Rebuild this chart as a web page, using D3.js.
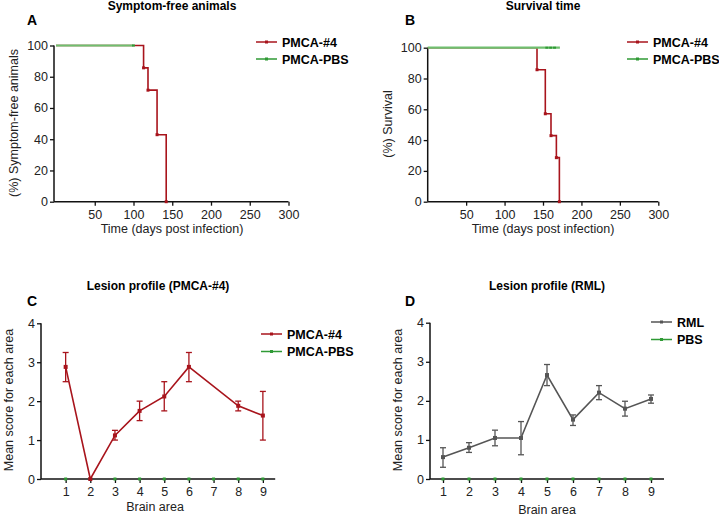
<!DOCTYPE html>
<html>
<head>
<meta charset="utf-8">
<script src="https://cdn.jsdelivr.net/npm/d3@7"></script>
<style>
  body { margin: 0; background: #fff; }
  svg { font-family: "Liberation Sans", Arial, sans-serif; }
</style>
</head>
<body>
<svg id="fig" width="719" height="516"></svg>
<script>
// ---- data ----
const timeTicks = [50, 100, 150, 200, 250, 300];
const pctTicks = [0, 20, 40, 60, 80, 100];

// A: symptom-free animals
const symptomTimes = [0, 113, 118.7, 130.4, 142.2];
const symptomPct = [100, 85.7, 71.4, 42.9, 0];
const symptomPbsTimes = [0, 100];

// B: survival
const survTimes = [0, 142.2, 153, 160.4, 167.4, 171.3];
const survPct = [100, 85.7, 57.1, 42.9, 28.6, 0];
const survPbsTimes = [0, 172];
const survPbsCensor = [155, 160, 165];

// C / D: lesion profiles
const brainAreas = [1, 2, 3, 4, 5, 6, 7, 8, 9];
const scoreTicks = [0, 1, 2, 3, 4];
const pmcaMean = [2.88, 0, 1.12, 1.75, 2.12, 2.88, null, 1.88, 1.63];
const pmcaHi = [3.25, 0, 1.25, 2.0, 2.5, 3.25, null, 2.0, 2.25];
const pmcaLo = [2.5, 0, 1.0, 1.5, 1.75, 2.5, null, 1.75, 1.0];
const pbsScore = [0, 0, 0, 0, 0, 0, 0, 0, 0];
const rmlMean = [0.56, 0.8, 1.05, 1.05, 2.66, 1.52, 2.21, 1.8, 2.05];
const rmlHi = [0.8, 0.93, 1.25, 1.47, 2.93, 1.64, 2.39, 1.99, 2.15];
const rmlLo = [0.3, 0.68, 0.85, 0.62, 2.39, 1.37, 2.03, 1.61, 1.94];

const RED = "#a8141c", GREEN = "#2f9a35", LIGHTGREEN = "#6fbf6f", GRAY = "#555555";

const svg = d3.select("#fig");

function axes(g, x, y, opt) {
  const ya = g.append("g").attr("transform", `translate(${opt.yAxisX},0)`)
    .call(d3.axisLeft(y).tickValues(opt.yTicks).tickFormat(d3.format("d")).tickSize(4).tickSizeOuter(0));
  const xa = g.append("g").attr("transform", `translate(0,${y.range()[0]})`)
    .call(d3.axisBottom(x).tickValues(opt.xTicks).tickFormat(d3.format("d")).tickSize(4).tickSizeOuter(0));
  [ya, xa].forEach(a => {
    a.select(".domain").remove();
    a.selectAll("line").attr("stroke", "#111").attr("stroke-width", 1.3);
    a.selectAll("text").attr("font-size", 12.5).attr("fill", "#222")
      .attr("font-family", "Liberation Sans, Arial, sans-serif");
  });
  ya.selectAll("text").attr("x", -6);
  xa.selectAll("text").attr("y", 8);
  g.append("line").attr("x1", opt.yAxisX).attr("x2", opt.yAxisX)
    .attr("y1", y.range()[0]).attr("y2", y.range()[1])
    .attr("stroke", "#111").attr("stroke-width", 1.5);
  g.append("line").attr("x1", opt.yAxisX).attr("x2", x.range()[1])
    .attr("y1", y.range()[0]).attr("y2", y.range()[0])
    .attr("stroke", "#111").attr("stroke-width", 1.5);
}

function labels(g, o) {
  g.append("text").attr("x", o.titleX).attr("y", o.titleY).attr("text-anchor", "middle")
    .attr("font-weight", "bold").attr("font-size", 12).text(o.title);
  g.append("text").attr("x", o.letterX).attr("y", o.letterY)
    .attr("font-weight", "bold").attr("font-size", 14).text(o.letter);
  g.append("text").attr("x", o.xLabelX).attr("y", o.xLabelY).attr("text-anchor", "middle")
    .attr("font-size", 12.5).attr("fill", "#222").text(o.xLabel);
  g.append("text").attr("transform", `translate(${o.yLabelX},${o.yLabelY}) rotate(-90)`)
    .attr("text-anchor", "middle").attr("font-size", 12.5).attr("fill", "#222").text(o.yLabel);
}

function legend(g, items, x, y, dy) {
  items.forEach((it, i) => {
    const yy = y + i * dy;
    g.append("line").attr("x1", x).attr("x2", x + 21).attr("y1", yy).attr("y2", yy)
      .attr("stroke", it.color).attr("stroke-width", 1.5);
    g.append("rect").attr("x", x + 9).attr("y", yy - 1.5).attr("width", 3).attr("height", 3)
      .attr("fill", it.color);
    g.append("text").attr("x", x + 26).attr("y", yy + 4.5).attr("font-weight", "bold")
      .attr("font-size", 12.5).text(it.name);
  });
}

function stepCurve(g, x, y, times, vals, color, width) {
  const pts = times.map((t, i) => [t, vals[i]]);
  g.append("path").datum(pts)
    .attr("fill", "none").attr("stroke", color).attr("stroke-width", width)
    .attr("d", d3.line().x(d => x(d[0])).y(d => y(d[1])).curve(d3.curveStepAfter));
  g.selectAll(null).data(pts.slice(1)).enter().append("rect")
    .attr("x", d => x(d[0]) - 1.5).attr("y", d => y(d[1]) - 1.5)
    .attr("width", 3).attr("height", 3).attr("fill", color);
}

// ---- Panel A ----
{
  const g = svg.append("g");
  const x = d3.scaleLinear().domain([0, 300]).range([56, 288.5]);
  const y = d3.scaleLinear().domain([0, 100]).range([201.7, 45.5]);
  axes(g, x, y, { yAxisX: 54, xTicks: timeTicks, yTicks: pctTicks });
  stepCurve(g, x, y, symptomTimes, symptomPct, RED, 1.6);
  g.append("line").attr("x1", x(symptomPbsTimes[0])).attr("x2", x(symptomPbsTimes[1]))
    .attr("y1", y(100)).attr("y2", y(100)).attr("stroke", LIGHTGREEN).attr("stroke-width", 2.2);
  g.append("rect").attr("x", x(symptomPbsTimes[1]) - 1.5).attr("y", y(100) - 1)
    .attr("width", 3).attr("height", 2).attr("fill", GREEN);
  labels(g, { title: "Symptom-free animals", titleX: 172, titleY: 10, letter: "A", letterX: 27, letterY: 25,
    xLabel: "Time (days post infection)", xLabelX: 172, xLabelY: 233,
    yLabel: "(%) Symptom-free animals", yLabelX: 18, yLabelY: 123 });
  legend(g, [{ name: "PMCA-#4", color: RED }, { name: "PMCA-PBS", color: GREEN }], 256, 42, 17);
}

// ---- Panel B ----
{
  const g = svg.append("g");
  const x = d3.scaleLinear().domain([0, 300]).range([427.7, 658.3]);
  const y = d3.scaleLinear().domain([0, 100]).range([201.7, 47.7]);
  axes(g, x, y, { yAxisX: 427.7, xTicks: timeTicks, yTicks: pctTicks });
  stepCurve(g, x, y, survTimes, survPct, RED, 1.6);
  g.append("line").attr("x1", x(survPbsTimes[0])).attr("x2", x(survPbsTimes[1]))
    .attr("y1", y(100)).attr("y2", y(100)).attr("stroke", LIGHTGREEN).attr("stroke-width", 2.2);
  g.selectAll(null).data(survPbsCensor).enter().append("rect")
    .attr("x", d => x(d) - 1.5).attr("y", y(100) - 1).attr("width", 3).attr("height", 2)
    .attr("fill", GREEN);
  labels(g, { title: "Survival time", titleX: 543, titleY: 10, letter: "B", letterX: 405, letterY: 25,
    xLabel: "Time (days post infection)", xLabelX: 543, xLabelY: 233,
    yLabel: "(%) Survival", yLabelX: 392, yLabelY: 124 });
  legend(g, [{ name: "PMCA-#4", color: RED }, { name: "PMCA-PBS", color: GREEN }], 627, 42, 17);
}

function lesion(g, x, y, mean, hi, lo, color) {
  const pts = brainAreas.map((a, i) => ({ a, m: mean[i], hi: hi[i], lo: lo[i] }))
    .filter(d => d.m !== null);
  g.append("path").datum(pts).attr("fill", "none").attr("stroke", color).attr("stroke-width", 1.6)
    .attr("d", d3.line().x(d => x(d.a)).y(d => y(d.m)));
  const eb = g.selectAll(null).data(pts.filter(d => d.hi !== d.lo)).enter().append("g")
    .attr("stroke", color).attr("stroke-width", 1.3);
  eb.append("line").attr("x1", d => x(d.a)).attr("x2", d => x(d.a))
    .attr("y1", d => y(d.hi)).attr("y2", d => y(d.lo));
  eb.append("line").attr("x1", d => x(d.a) - 3).attr("x2", d => x(d.a) + 3)
    .attr("y1", d => y(d.hi)).attr("y2", d => y(d.hi));
  eb.append("line").attr("x1", d => x(d.a) - 3).attr("x2", d => x(d.a) + 3)
    .attr("y1", d => y(d.lo)).attr("y2", d => y(d.lo));
  g.selectAll(null).data(pts).enter().append("rect")
    .attr("x", d => x(d.a) - 2).attr("y", d => y(d.m) - 2).attr("width", 4).attr("height", 4)
    .attr("fill", color);
}

function pbsLine(g, x, y) {
  g.selectAll(null).data(brainAreas).enter().append("rect")
    .attr("x", d => x(d) - 1.5).attr("y", (d, i) => y(pbsScore[i]) - 1.5)
    .attr("width", 3).attr("height", 3).attr("fill", GREEN);
}

// ---- Panel C ----
{
  const g = svg.append("g");
  const x = d3.scaleLinear().domain([0, 9.5]).range([41, 275.2]);
  const y = d3.scaleLinear().domain([0, 4]).range([479, 323.3]);
  axes(g, x, y, { yAxisX: 41, xTicks: brainAreas, yTicks: scoreTicks });
  pbsLine(g, x, y);
  lesion(g, x, y, pmcaMean, pmcaHi, pmcaLo, RED);
  labels(g, { title: "Lesion profile (PMCA-#4)", titleX: 158, titleY: 290, letter: "C", letterX: 27, letterY: 306,
    xLabel: "Brain area", xLabelX: 155, xLabelY: 511,
    yLabel: "Mean score for each area", yLabelX: 13, yLabelY: 400 });
  legend(g, [{ name: "PMCA-#4", color: RED }, { name: "PMCA-PBS", color: GREEN }], 261, 334, 17.5);
}

// ---- Panel D ----
{
  const g = svg.append("g");
  const x = d3.scaleLinear().domain([0.5, 9.5]).range([430, 664]);
  const y = d3.scaleLinear().domain([0, 4]).range([479, 322.7]);
  axes(g, x, y, { yAxisX: 430, xTicks: brainAreas, yTicks: scoreTicks });
  pbsLine(g, x, y);
  lesion(g, x, y, rmlMean, rmlHi, rmlLo, GRAY);
  labels(g, { title: "Lesion profile (RML)", titleX: 547, titleY: 290, letter: "D", letterX: 405, letterY: 306,
    xLabel: "Brain area", xLabelX: 547, xLabelY: 514,
    yLabel: "Mean score for each area", yLabelX: 402, yLabelY: 400 });
  legend(g, [{ name: "RML", color: GRAY }, { name: "PBS", color: GREEN }], 651, 322, 17.5);
}
</script>
</body>
</html>
